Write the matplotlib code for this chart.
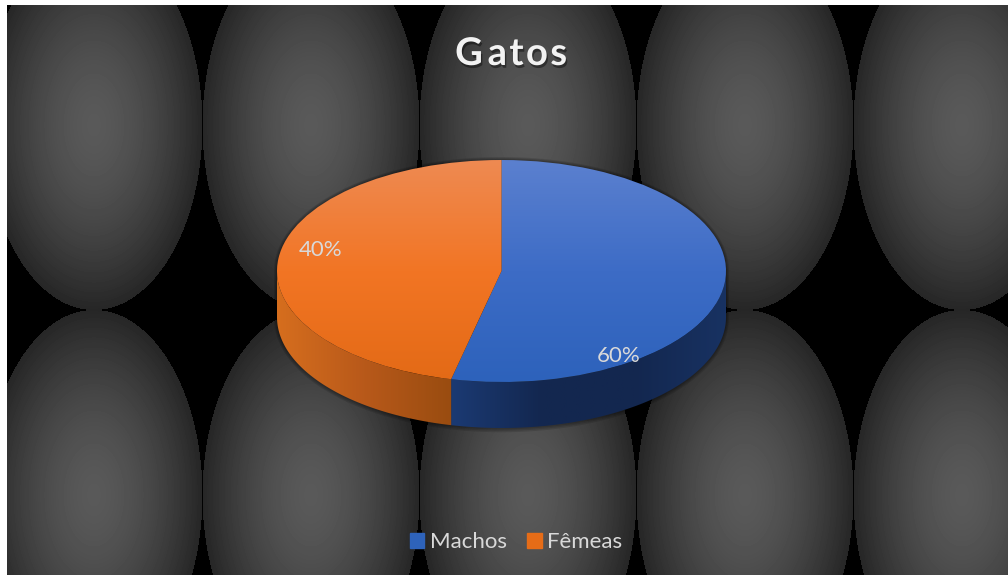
import matplotlib
matplotlib.use('Agg')
import matplotlib.pyplot as plt
import matplotlib.patheffects as pe
from matplotlib.colors import LinearSegmentedColormap
from matplotlib.patches import Patch, Polygon
import numpy as np

title = 'G\u2009a\u200at\u200ao\u200as'
categories = ['Machos', 'Fêmeas']
# slice sizes as drawn in the picture, the printed labels say something else
slice_shares = [53.6, 46.4]
slice_labels = ['60%', '40%']

W, H = 1008, 576
plt.rcParams['font.family'] = ['Lato', 'DejaVu Sans']

fig = plt.figure(figsize=(W / 100, H / 100), dpi=100, facecolor='white')

# background, tiled ellipses with a radial gradient
bg = fig.add_axes([0, 0, 1, 1])
bg.set_xlim(0, W)
bg.set_ylim(H, 0)
bg.axis('off')
xx, yy = np.meshgrid(np.arange(7, W) + 0.5, np.arange(5, H - 1) + 0.5)
tile_w, tile_h = 217.0, 370.0
cx = 94 + tile_w * np.round((xx - 94) / tile_w)
cy = 125 + tile_h * np.round((yy - 125) / tile_h)
r = np.hypot((xx - cx) / (tile_w / 2), (yy - cy) / (tile_h / 2))
shade = np.where(r <= 1, 0.35 - 0.2 * r ** 1.6, 0.0)
bg.imshow(shade, cmap='gray', vmin=0, vmax=1, extent=(7, W, H - 1, 5), aspect='auto', zorder=0)
bg.set_xlim(0, W)
bg.set_ylim(H, 0)

# pie, in an axes that is squashed so the circle turns into an ellipse
px_left, px_right, px_top, px_bottom = 277.0, 726.0, 160.0, 382.0
ry_px = (px_bottom - px_top) / 2
depth = 46.0 / ry_px
pad = 0.15
ax_h = (2 + depth + 2 * pad) * ry_px
ax_w = (px_right - px_left) * (2 + 2 * pad) / 2
ax_l = (px_left + px_right) / 2 - ax_w / 2
ax_t = px_top - pad * ry_px
ax = fig.add_axes([ax_l / W, 1 - (ax_t + ax_h) / H, ax_w / W, ax_h / H])
ax.patch.set_alpha(0)

wedges, _ = ax.pie(slice_shares, radius=1, startangle=90, counterclock=False, center=(0, 0))
limits = dict(xlim=(-1 - pad, 1 + pad), ylim=(-1 - depth - pad, 1 + pad))
ax.set_aspect('auto')
ax.axis('off')

split = np.pi / 2 - 2 * np.pi * slice_shares[0] / sum(slice_shares)


def wall(a0, a1):
    t = np.linspace(a0, a1, 100)
    top = np.column_stack([np.cos(t), np.sin(t)])
    low = np.column_stack([np.cos(t[::-1]), np.sin(t[::-1]) - depth])
    return np.vstack([top, low])


# soft shadow round the whole disc
t = np.linspace(0, 2 * np.pi, 200)
outline_x = np.cos(t)
outline_y = np.where(np.sin(t) < 0, np.sin(t) - depth, np.sin(t))
for grow in [3, 2, 1]:
    ax.add_patch(Polygon(np.column_stack([outline_x * (1 + grow / 224.0),
                                          outline_y * (1 + grow / 111.0)]),
                         closed=True, fc='black', ec='none', alpha=0.12, zorder=1))

blue_top = LinearSegmentedColormap.from_list('bt', ['#5b80cf', '#3d6cc6', '#2d62bb'])
orange_top = LinearSegmentedColormap.from_list('ot', ['#ee8a52', '#f27524', '#e36a16'])
blue_wall = LinearSegmentedColormap.from_list('bw', ['#1b3a73', '#13274f', '#13274f', '#183262'])
orange_wall = LinearSegmentedColormap.from_list('ow', ['#d66e1e', '#b8591a', '#994c10'])

vertical = np.linspace(0, 1, 256).reshape(-1, 1)
horizontal = np.linspace(0, 1, 256).reshape(1, -1)

for wedge, cmap in zip(wedges, [blue_top, orange_top]):
    im = ax.imshow(vertical, cmap=cmap, extent=(-1, 1, -1, 1), origin='upper', aspect='auto', zorder=3)
    wedge.set_facecolor('none')
    wedge.set_edgecolor('none')
    im.set_clip_path(wedge)

blue_side = Polygon(wall(split, 0), closed=True, fc='none', ec='none', zorder=2)
orange_side = Polygon(wall(-np.pi, split), closed=True, fc='none', ec='none', zorder=2)
ax.add_patch(blue_side)
ax.add_patch(orange_side)
im = ax.imshow(horizontal, cmap=blue_wall, extent=(np.cos(split), 1, -1 - depth, 1), aspect='auto', zorder=2)
im.set_clip_path(blue_side)
im = ax.imshow(horizontal, cmap=orange_wall, extent=(-1, np.cos(split), -1 - depth, 1), aspect='auto', zorder=2)
im.set_clip_path(orange_side)
ax.set(**limits)

# title and labels
bg.set_zorder(0)
ax.set_zorder(1)
txt = fig.add_axes([0, 0, 1, 1], zorder=2)
txt.set_xlim(0, W)
txt.set_ylim(H, 0)
txt.axis('off')
txt.text(511, 54, title, color='#f2f2f2', fontsize=27.5, fontweight='bold', ha='center', va='center',
         path_effects=[pe.SimplePatchShadow(offset=(1, -2), shadow_rgbFace='black', alpha=0.4), pe.Normal()])
txt.text(618.5, 355.5, slice_labels[0], color='#d9d9d9', fontsize=16, ha='center', va='center')
txt.text(321, 249.5, slice_labels[1], color='#d9d9d9', fontsize=16, ha='center', va='center')

handles = [Patch(color='#2e63bb', label=categories[0]), Patch(color='#e66c17', label=categories[1])]
txt.legend(handles=handles, loc='center', bbox_to_anchor=(516 / W, 1 - 542 / H), frameon=False, ncol=2,
           fontsize=16, labelcolor='#d9d9d9', handlelength=0.66, handleheight=0.66, handletextpad=0.25,
           columnspacing=0.9, borderpad=0, borderaxespad=0)

fig.savefig('out.png', dpi=100, facecolor='white')
